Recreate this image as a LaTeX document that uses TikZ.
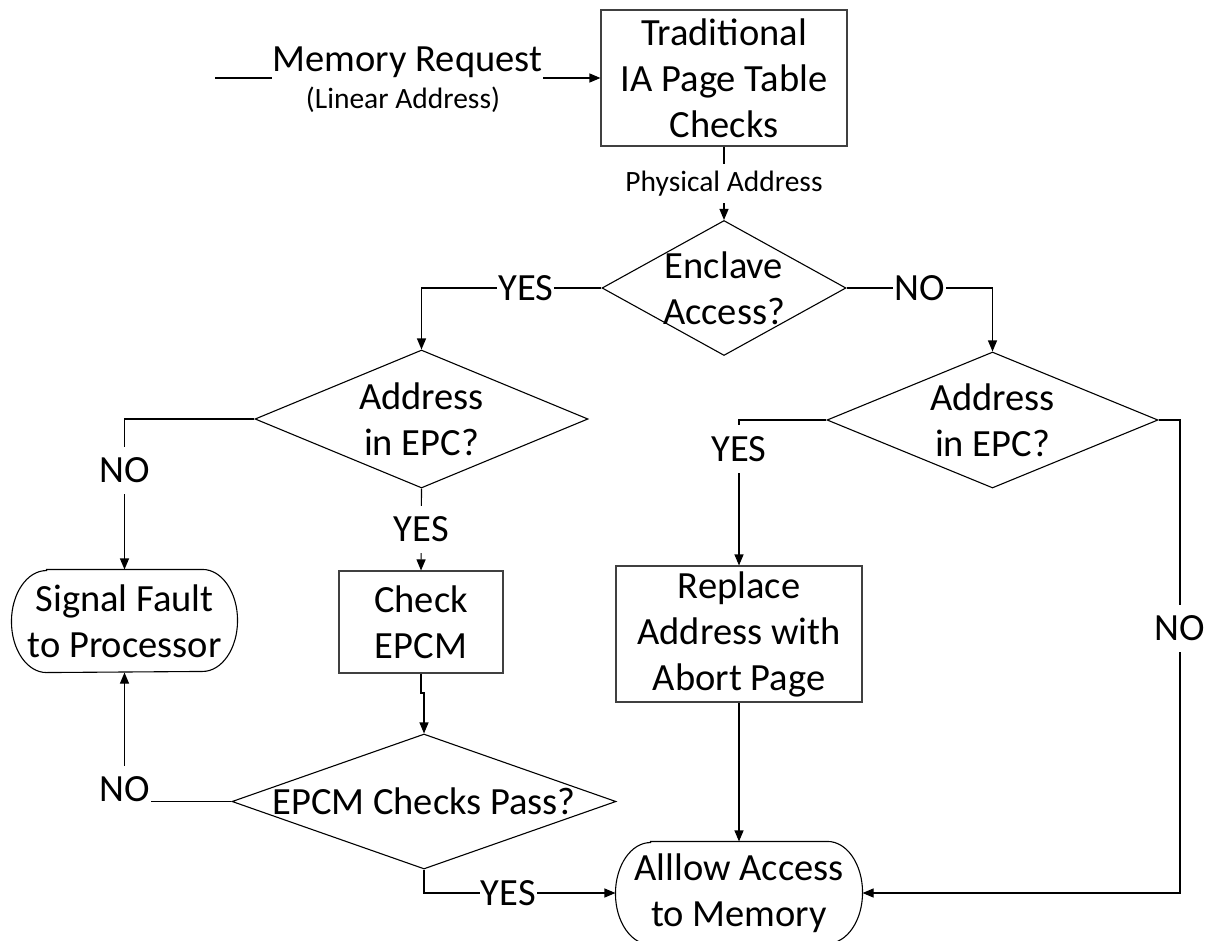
\documentclass[tikz,border=0pt]{standalone}
\usepackage{fontspec}
\setmainfont{Carlito}
\usetikzlibrary{arrows.meta,shapes.geometric,calc}
\newcommand{\bigtxt}{\fontsize{38.5}{46}\selectfont}
\newcommand{\smalltxt}{\fontsize{29.5}{36}\selectfont}
\begin{document}
\begin{tikzpicture}[x=1pt,y=-1pt,
  line width=1.1pt,
  arr/.style={-{Triangle[length=11pt,width=9pt]}},
  proc/.style={draw=black!75, rectangle, inner sep=0pt, font=\bigtxt, align=center},
  dec/.style={draw, diamond, inner sep=0pt},
  dectext/.style={font=\bigtxt, align=center},
  term/.style={rectangle, inner sep=0pt, font=\bigtxt, align=center},
  lbl/.style={fill=white, font=\bigtxt, inner xsep=1pt, inner ysep=11pt},
]
\useasboundingbox (0,0) rectangle (1206,941);

% process boxes
\node[proc, minimum width=246pt, minimum height=136pt] (trad) at (724,78)
  {Traditional\\IA Page Table\\Checks};
\node[proc, minimum width=164pt, minimum height=102pt] (check) at (421,622)
  {Check\\EPCM};
\node[proc, minimum width=246pt, minimum height=136pt] (repl) at (739,634)
  {Replace\\Address with\\Abort Page};

% decisions
\node[dec, minimum width=244pt, minimum height=135pt,
  label={[dectext]center:Enclave\\Access?}] (enc) at (724,288) {};
\node[dec, minimum width=333pt, minimum height=138pt,
  label={[dectext]center:Address\\in EPC?}] (addrL) at (421.5,419) {};
\node[dec, minimum width=331pt, minimum height=136pt,
  label={[dectext]center:Address\\in EPC?}] (addrR) at (992.5,420) {};
\node[dec, minimum width=384pt, minimum height=135pt,
  label={[dectext]center:EPCM Checks Pass?}] (pass) at (424,801.5) {};

% terminals
\node[term, minimum width=225pt, minimum height=102pt] (sf) at (124.5,621)
  {Signal Fault\\to Processor};
\node[term, minimum width=246pt, minimum height=102pt] (allow) at (739,893)
  {Alllow Access\\to Memory};
\foreach \t in {sf,allow}{
  \draw ([xshift=35pt]\t.north west) -- ([xshift=-35pt]\t.north east)
    arc[start angle=90,end angle=-90,x radius=35pt,y radius=51pt]
    -- ([xshift=35pt]\t.south west)
    arc[start angle=270,end angle=90,x radius=35pt,y radius=51pt] -- cycle;
}

% incoming request
\coordinate (src) at (215,78);
\draw[arr] (src) -- (trad.west);
\node[lbl, inner ysep=1pt, anchor=base] (mreq) at (407.5,72) {Memory Request};
\node[font=\smalltxt, anchor=base, inner sep=0pt] (lin) at (403,109) {(Linear Address)};

% connectors
\draw[arr] (trad.south) -- (enc.north)
  node[lbl, font=\smalltxt, inner ysep=7pt, midway] (pa) {Physical Address};
\draw[arr] (enc.west) -| (addrL.north) node[lbl, pos=0.21] {YES};
\draw[arr] (enc.east) -| (addrR.north) node[lbl, pos=0.25] {NO};
\draw[arr] (addrL.west) -| (sf.north) node[lbl, pos=0.67] {NO};
\draw[arr] (addrL.south) -- (check.north) node[lbl, midway] {YES};
\draw[arr] (addrR.west) -| (repl.north) node[lbl, pos=0.6] {YES};
\coordinate (rc) at (1180,893);
\draw[arr] (addrR.east) -| (rc) node[lbl, pos=0.72] {NO} -- (allow.east);
\coordinate (jog) at (421,693);
\draw[arr] (check.south) -- (jog) -| (pass.north);
\draw[arr] (pass.west) -| (sf.south) node[lbl, pos=0.5, anchor=base] {NO};
\draw[arr] (pass.south) |- (allow.west) node[lbl, pos=0.72] {YES};
\draw[arr] (repl.south) -- (allow.north);
\end{tikzpicture}
\end{document}
